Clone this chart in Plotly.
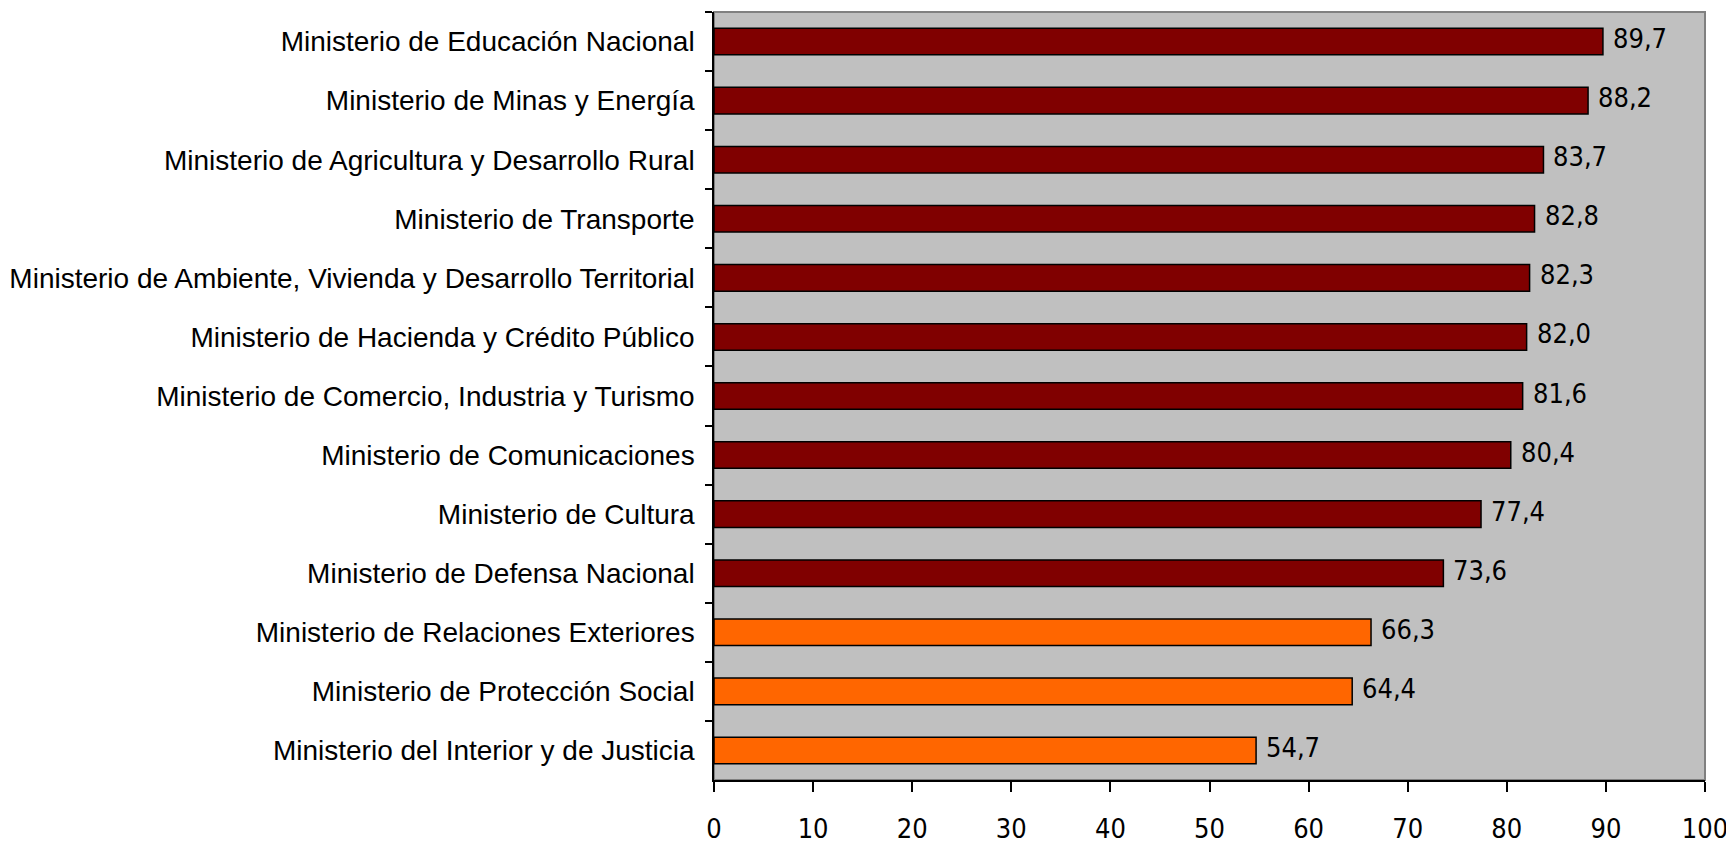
import plotly.graph_objects as go

categories = [
    "Ministerio de Educación Nacional",
    "Ministerio de Minas y Energía",
    "Ministerio de Agricultura y Desarrollo Rural",
    "Ministerio de Transporte",
    "Ministerio de Ambiente, Vivienda y Desarrollo Territorial",
    "Ministerio de Hacienda y Crédito Público",
    "Ministerio de Comercio, Industria y Turismo",
    "Ministerio de Comunicaciones",
    "Ministerio de Cultura",
    "Ministerio de Defensa Nacional",
    "Ministerio de Relaciones Exteriores",
    "Ministerio de Protección Social",
    "Ministerio del Interior y de Justicia",
]
values = [89.7, 88.2, 83.7, 82.8, 82.3, 82.0, 81.6, 80.4, 77.4, 73.6, 66.3, 64.4, 54.7]
groups = ["alto"] * 10 + ["bajo"] * 3
group_colors = {"alto": "#800000", "bajo": "#FF6600"}
x_ticks = list(range(0, 101, 10))

colors = [group_colors[g] for g in groups]

fig = go.Figure(
    go.Bar(
        x=values,
        y=categories,
        orientation="h",
        marker=dict(color=colors, line=dict(color="#000000", width=1.5)),
        width=0.45,
        hoverinfo="x+y",
    )
)

for c, v in zip(categories, values):
    fig.add_annotation(
        x=v, y=c, xref="x", yref="y",
        text=f"{v:.1f}".replace(".", ","),
        showarrow=False, xanchor="left", yanchor="middle",
        xshift=8, yshift=3,
        font=dict(family="DejaVu Sans Condensed, DejaVu Sans", size=27, color="#000000"),
    )

fig.add_shape(
    type="rect", xref="paper", yref="paper", x0=0, x1=1, y0=0, y1=1,
    line=dict(color="#808080", width=2), layer="below",
)

# page body has an 8px default margin; size/margins compensate for it
fig.update_layout(
    width=1726, height=837,
    margin=dict(l=706, r=29, t=4, b=65, autoexpand=False),
    paper_bgcolor="#FFFFFF",
    plot_bgcolor="#C0C0C0",
    showlegend=False,
    separators=",.",
)

fig.update_xaxes(
    range=[0, 100],
    tickvals=x_ticks,
    ticktext=[str(t) for t in x_ticks],
    showgrid=False, zeroline=False,
    showline=True, linecolor="#000000", linewidth=1.5,
    ticks="outside", ticklen=10, tickcolor="#000000", tickwidth=1.5,
    ticklabelstandoff=14,
    automargin=False,
    tickfont=dict(family="DejaVu Sans Condensed, DejaVu Sans", size=27, color="#000000"),
    fixedrange=True,
)
fig.update_yaxes(
    autorange="reversed",
    showgrid=False, zeroline=False,
    showline=True, linecolor="#000000", linewidth=1.5,
    ticks="outside", ticklen=7, tickcolor="#000000", tickwidth=1.5,
    tickson="boundaries",
    ticklabelstandoff=12,
    automargin=False,
    tickfont=dict(family="Liberation Sans, Arial", size=28, color="#000000"),
    fixedrange=True,
)

fig.write_html("out.html")
